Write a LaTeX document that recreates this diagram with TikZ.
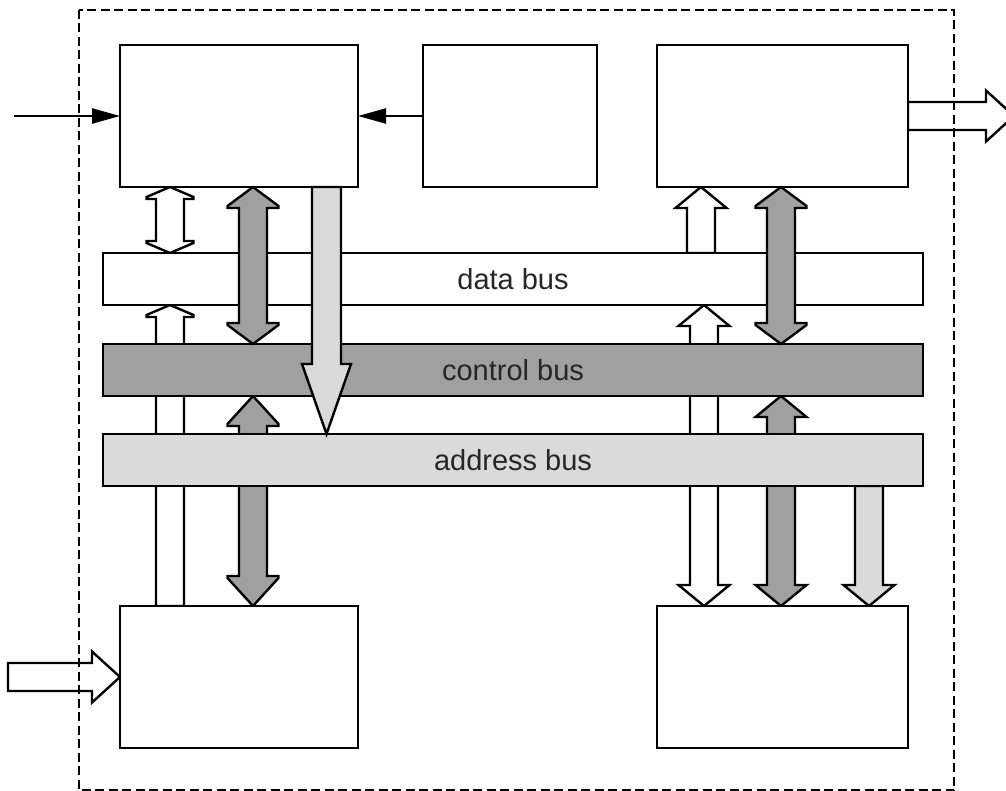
\documentclass[tikz,border=0pt]{standalone}
\usepackage{fontspec}
\setmainfont{Liberation Sans}
\usetikzlibrary{arrows.meta,calc}
\definecolor{busgrey}{HTML}{A0A0A0}
\definecolor{buslight}{HTML}{DADADA}
\definecolor{labelgrey}{HTML}{262626}
\tikzstyle{Unit}=[shape=rectangle, draw=black, fill=white, line width=1.2pt, inner sep=0pt, outer sep=0pt, minimum height=71pt]
\tikzstyle{Bus}=[shape=rectangle, draw=black, line width=1.2pt, inner sep=0pt, outer sep=0pt, minimum width=410pt, minimum height=26pt, text=labelgrey, font=\fontsize{14.5}{17}\selectfont]
\tikzstyle{wire}=[line width=1.2pt, -{Triangle[length=14pt, width=7.5pt]}]
\tikzstyle{frame}=[line width=1.2pt, dash pattern=on 4.5pt off 2.25pt]
\tikzset{
	headlen/.code={\def\arrhl{#1}\def\arrtl{#1}},
	tiplen/.code={\def\arrtl{#1}},
	headwd/.code={\def\arrhw{#1}},
	shaftwd/.code={\def\arrsw{#1}},
	headlen=10.5pt, headwd=12.75pt, shaftwd=7pt,
}
\tikzstyle{fatsingle}=[line width=1.2pt, line join=miter, draw=black, to path={
	let \p1=(\tikztostart), \p2=(\tikztotarget),
	\n1={atan2((\y2)-(\y1),(\x2)-(\x1))}, \n2={veclen((\x2)-(\x1),(\y2)-(\y1))} in
	{[shift={(\p1)}, rotate=\n1]
	(0pt,\arrsw) -- ({\n2-\arrhl},\arrsw) -- ({\n2-\arrhl},\arrhw) -- ({\n2-\arrtl},\arrhw)
	-- ({\n2+0pt},0pt) -- ({\n2-\arrtl},{-\arrhw}) -- ({\n2-\arrhl},{-\arrhw})
	-- ({\n2-\arrhl},{-\arrsw}) -- (0pt,{-\arrsw}) -- cycle}}]
\tikzstyle{fatdouble}=[line width=1.2pt, line join=miter, draw=black, to path={
	let \p1=(\tikztostart), \p2=(\tikztotarget),
	\n1={atan2((\y2)-(\y1),(\x2)-(\x1))}, \n2={veclen((\x2)-(\x1),(\y2)-(\y1))} in
	{[shift={(\p1)}, rotate=\n1]
	(0pt,0pt) -- (\arrtl,\arrhw) -- (\arrhl,\arrhw) -- (\arrhl,\arrsw)
	-- ({\n2-\arrhl},\arrsw) -- ({\n2-\arrhl},\arrhw) -- ({\n2-\arrtl},\arrhw)
	-- ({\n2+0pt},0pt) -- ({\n2-\arrtl},{-\arrhw}) -- ({\n2-\arrhl},{-\arrhw})
	-- ({\n2-\arrhl},{-\arrsw}) -- (\arrhl,{-\arrsw}) -- (\arrhl,{-\arrhw})
	-- (\arrtl,{-\arrhw}) -- cycle}}]
\pgfdeclarelayer{back}
\pgfdeclarelayer{front}
\pgfsetlayers{back,main,front}

\begin{document}
\begin{tikzpicture}[x=0.5pt, y=-0.5pt]
	\useasboundingbox (0,0) rectangle (1006,791);
	% units
	\node [style=Unit, minimum width=119pt] (cpu) at (239,116) {};
	\node [style=Unit, minimum width=87pt] (clock) at (510,116) {};
	\node [style=Unit, minimum width=125.5pt] (outunit) at (782.5,116) {};
	\node [style=Unit, minimum width=119pt] (inunit) at (239,677) {};
	\node [style=Unit, minimum width=125.5pt] (memory) at (782.5,677) {};
	% buses
	\node [style=Bus, fill=white] (databus) at (513,279) {data bus};
	\node [style=Bus, fill=busgrey] (ctrlbus) at (513,370) {control bus};
	\node [style=Bus, fill=buslight] (addrbus) at (513,460) {address bus};
	% lanes and outside ends
	\coordinate (lane1) at (170,0);
	\coordinate (lane2) at (253,0);
	\coordinate (lane3) at (326.5,0);
	\coordinate (lane4) at (701,0);
	\coordinate (lane5) at (704,0);
	\coordinate (lane6) at (781,0);
	\coordinate (lane7) at (869,0);
	\coordinate (extin) at (14,116);
	\coordinate (fatin) at (8,677);
	\coordinate (fatout) at (1014,116);

	\begin{pgfonlayer}{back}
		\draw [style=wire] (extin) to (cpu.west);
		\draw [style=wire] (clock.west) to (cpu.east);
		\draw [style=fatdouble, fill=white, headwd=11.75pt, headlen=6pt, tiplen=5pt] (cpu.south -| lane1) to (databus.north -| lane1);
		\draw [style=fatsingle, fill=white, headwd=11.75pt, headlen=6pt, tiplen=5pt] (inunit.north -| lane1) to (databus.south -| lane1);
		\draw [style=fatdouble, fill=busgrey, headlen=15pt, tiplen=14pt] (ctrlbus.south -| lane2) to (inunit.north -| lane2);
		\draw [style=fatsingle, fill=white] (databus.north -| lane4) to (outunit.south -| lane4);
		\draw [style=fatdouble, fill=white] (databus.south -| lane5) to (memory.north -| lane5);
		\draw [style=fatdouble, fill=busgrey] (ctrlbus.south -| lane6) to (memory.north -| lane6);
		\draw [style=fatsingle, fill=buslight] (addrbus.south -| lane7) to (memory.north -| lane7);
		\draw [style=fatsingle, fill=white, headlen=14pt] (outunit.east) to (fatout);
		\draw [style=fatsingle, fill=white, headlen=14pt] (fatin) to (inunit.west);
	\end{pgfonlayer}

	\begin{pgfonlayer}{front}
		\draw [style=fatdouble, fill=busgrey, tiplen=9.5pt] (cpu.south -| lane2) to (ctrlbus.north -| lane2);
		\draw [style=fatsingle, fill=buslight, headlen=35pt, headwd=12.25pt, shaftwd=7.25pt] (cpu.south -| lane3) to (addrbus.north -| lane3);
		\draw [style=fatdouble, fill=busgrey, tiplen=9.5pt] (outunit.south -| lane6) to (ctrlbus.north -| lane6);
		% boundary
		\draw [style=frame] (79,10) rectangle (954,790.5);
	\end{pgfonlayer}
\end{tikzpicture}
\end{document}
